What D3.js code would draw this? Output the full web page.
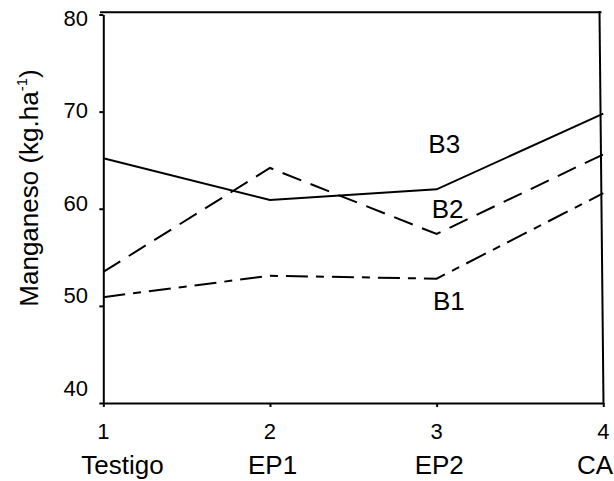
<!DOCTYPE html>
<html>
<head>
<meta charset="utf-8">
<script src="https://cdn.jsdelivr.net/npm/d3@7"></script>
<style>
  html, body { margin: 0; padding: 0; background: #fff; }
  svg { display: block; font-family: "Liberation Sans", Arial, sans-serif; }
</style>
</head>
<body>
<svg id="chart" width="614" height="481"></svg>
<script>
// Treatments along the x axis
const positions = [1, 2, 3, 4];
const treatments = ["Testigo", "EP1", "EP2", "CA"];

// Manganese (kg/ha) for each block
const b1 = [50.9, 53.1, 52.8, 61.6];
const b2 = [53.5, 64.2, 57.4, 65.6];
const b3 = [65.2, 60.9, 62.0, 69.8];

const yTicks = [40, 50, 60, 70, 80];
const seriesNames = ["B1", "B2", "B3"];

const W = 614;
const svg = d3.select("#chart");

const x = d3.scaleLinear().domain([1, 4]).range([103.3, 603.3]);
const y = d3.scaleLinear().domain([40, 80]).range([403, 14.5]);
// baseline placement of the y tick numbers
const yLab = d3.scaleLinear().domain([40, 80]).range([395.5, 25.5]);

const ink = "#000";

// frame: top rule and right edge
svg.append("line")
  .attr("x1", 100).attr("x2", 601.5)
  .attr("y1", 12.3).attr("y2", 12.3)
  .attr("stroke", ink).attr("stroke-width", 2);
svg.append("line")
  .attr("x1", 599.5).attr("y1", 11)
  .attr("x2", 603.5).attr("y2", 404)
  .attr("stroke", ink).attr("stroke-width", 2);

// y axis
const yAxis = svg.append("g")
  .attr("transform", `translate(${x(1)},0)`)
  .call(d3.axisLeft(y).tickValues(yTicks).tickSize(4).tickSizeOuter(0).tickFormat(""));
yAxis.select(".domain").attr("stroke", ink).attr("stroke-width", 2);
yAxis.selectAll(".tick line").attr("stroke", ink).attr("stroke-width", 2);

svg.append("g").selectAll("text")
  .data(yTicks).join("text")
  .attr("x", 88)
  .attr("y", d => yLab(d))
  .attr("text-anchor", "end")
  .attr("font-size", 22)
  .attr("fill", ink)
  .text(d => d);

// x axis
const xAxis = svg.append("g")
  .attr("transform", `translate(0,${y(40)})`)
  .call(d3.axisBottom(x).tickValues(positions).tickSize(4).tickSizeOuter(0).tickFormat(""));
xAxis.select(".domain").attr("stroke", ink).attr("stroke-width", 2);
xAxis.selectAll(".tick line").attr("stroke", ink).attr("stroke-width", 2);

const xl = svg.append("g");
xl.selectAll("text.num")
  .data(positions).join("text")
  .attr("class", "num")
  .attr("x", d => x(d))
  .attr("y", 439)
  .attr("text-anchor", "middle")
  .attr("font-size", 22)
  .attr("fill", ink)
  .text(d => d);
xl.selectAll("text.name")
  .data(treatments).join("text")
  .attr("class", "name")
  .attr("x", (d, i) => x(positions[i]) - 22)
  .attr("y", 474)
  .attr("text-anchor", "start")
  .attr("font-size", 26)
  .attr("fill", ink)
  .text(d => d)
  // keep the last label inside the drawing
  .each(function () {
    const w = this.getComputedTextLength();
    const x0 = +this.getAttribute("x");
    if (x0 + w > W - 1) this.setAttribute("x", W - 1 - w);
  });

// y axis title
const title = svg.append("text")
  .attr("transform", "translate(38,188) rotate(-90)")
  .attr("text-anchor", "middle")
  .attr("font-size", 26)
  .attr("fill", ink);
title.append("tspan").text("Manganeso (kg.ha");
title.append("tspan").attr("font-size", 15).attr("dy", -11).text("-1");
title.append("tspan").attr("dy", 11).text(")");

// series lines
const line = d3.line().x((d, i) => x(positions[i])).y(d => y(d));
const series = [
  { name: "B1", values: b1, dash: "22,8,8,8" },
  { name: "B2", values: b2, dash: "20,10" },
  { name: "B3", values: b3, dash: null }
];
svg.append("g").selectAll("path")
  .data(series).join("path")
  .attr("d", d => line(d.values))
  .attr("fill", "none")
  .attr("stroke", ink)
  .attr("stroke-width", 2)
  .attr("stroke-dasharray", d => d.dash);

// series labels, placed near the EP2 position
const labelPos = { B1: [433, 309.7], B2: [431.7, 218.3], B3: [428.3, 153.3] };
svg.append("g").selectAll("text")
  .data(seriesNames).join("text")
  .attr("x", d => labelPos[d][0])
  .attr("y", d => labelPos[d][1])
  .attr("font-size", 26)
  .attr("fill", ink)
  .text(d => d);
</script>
</body>
</html>
